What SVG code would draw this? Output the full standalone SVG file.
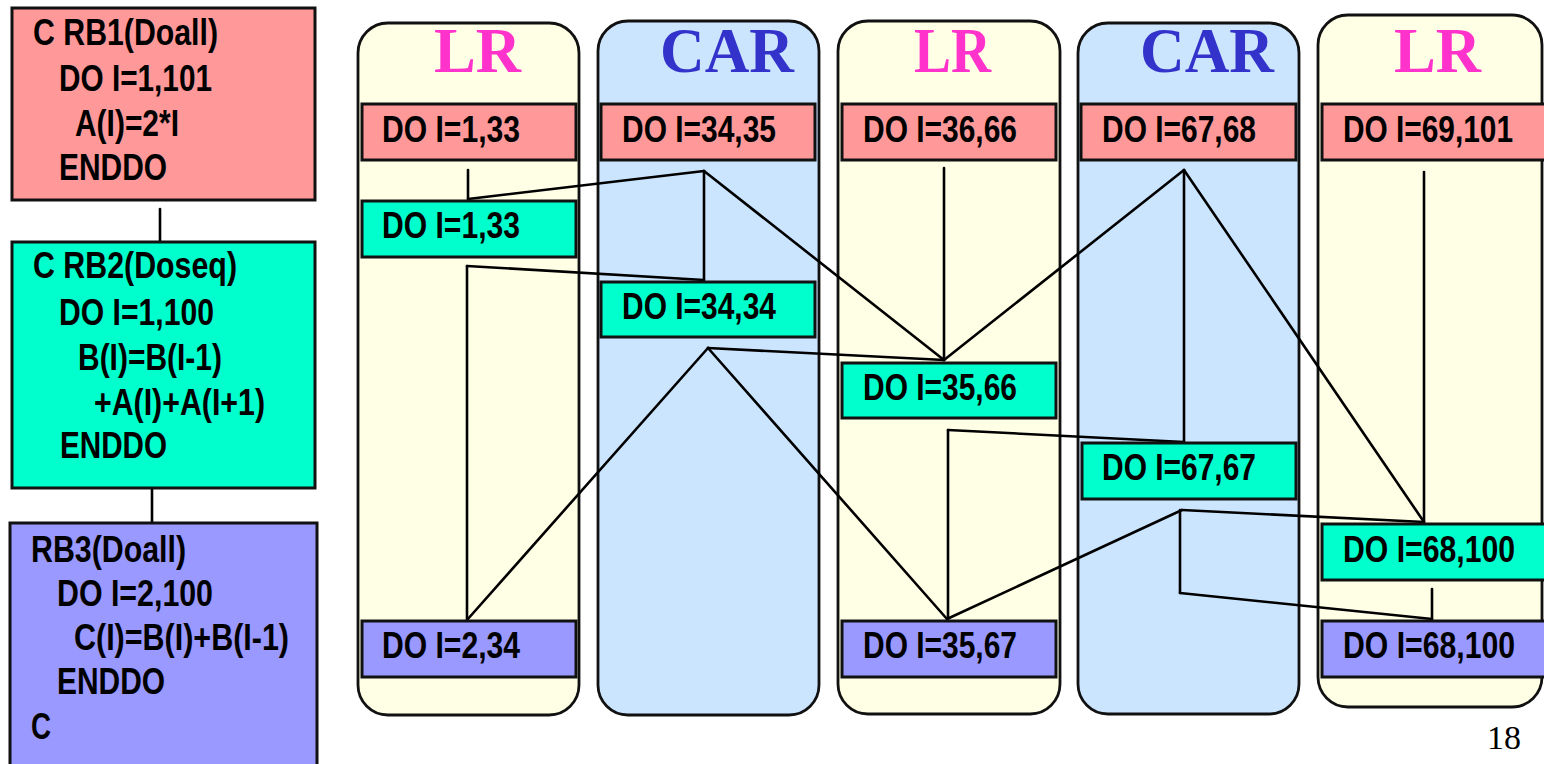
<svg xmlns="http://www.w3.org/2000/svg" width="1544" height="764" viewBox="0 0 1544 764">
<style>
.t{font-family:'Liberation Sans Narrow','Liberation Sans',Arial,sans-serif;font-weight:bold;font-size:36px;fill:#000}
.ttl{font-family:'Liberation Serif','Times New Roman',serif;font-weight:bold;font-size:63px}
.lr{fill:#ff33cc}
.car{fill:#3333cc}
.laneLR{fill:#ffffe6;stroke:#111;stroke-width:2.8}
.laneCAR{fill:#cce5ff;stroke:#111;stroke-width:2.8}
.p{fill:#ff9999;stroke:#111;stroke-width:3}
.g{fill:#00ffcc;stroke:#111;stroke-width:3}
.b{fill:#9999ff;stroke:#111;stroke-width:3}
.c line{stroke:#000;stroke-width:2.6;stroke-linecap:round}
</style>
<rect width="1544" height="764" fill="#fff"/>
<g id="lanes">
<rect id="lane1" class="laneLR" x="358" y="23" width="221" height="692" rx="30"/>
<rect id="lane2" class="laneCAR" x="598" y="21" width="221" height="694" rx="30"/>
<rect id="lane3" class="laneLR" x="838" y="21" width="222" height="693" rx="30"/>
<rect id="lane4" class="laneCAR" x="1078" y="23" width="221" height="691" rx="30"/>
<rect id="lane5" class="laneLR" x="1318" y="15" width="224" height="692" rx="30"/>
<text class="ttl lr" x="434" y="72" textLength="87" lengthAdjust="spacingAndGlyphs">LR</text>
<text class="ttl car" x="660" y="72" textLength="134" lengthAdjust="spacingAndGlyphs">CAR</text>
<text class="ttl lr" x="914" y="72" textLength="77" lengthAdjust="spacingAndGlyphs">LR</text>
<text class="ttl car" x="1140" y="72" textLength="134" lengthAdjust="spacingAndGlyphs">CAR</text>
<text class="ttl lr" x="1394" y="72" textLength="87" lengthAdjust="spacingAndGlyphs">LR</text>
</g>
<g id="connectors" class="c">
<line x1="160" y1="209" x2="160" y2="242"/>
<line x1="152" y1="488" x2="152" y2="523"/>
<line x1="468" y1="170" x2="468" y2="199"/>
<line x1="468" y1="199" x2="704" y2="171"/>
<line x1="704" y1="171" x2="704" y2="280"/>
<line x1="704" y1="171" x2="944" y2="360"/>
<line x1="467" y1="266" x2="704" y2="280"/>
<line x1="467" y1="266" x2="467" y2="620"/>
<line x1="467" y1="620" x2="708" y2="348"/>
<line x1="708" y1="348" x2="944" y2="360"/>
<line x1="708" y1="348" x2="947" y2="619"/>
<line x1="944" y1="168" x2="944" y2="360"/>
<line x1="944" y1="360" x2="1184" y2="170"/>
<line x1="1184" y1="170" x2="1184" y2="442"/>
<line x1="1184" y1="170" x2="1424" y2="522"/>
<line x1="1424" y1="172" x2="1424" y2="522"/>
<line x1="948" y1="430" x2="1184" y2="442"/>
<line x1="948" y1="430" x2="948" y2="619"/>
<line x1="947" y1="619" x2="1182" y2="510"/>
<line x1="1182" y1="510" x2="1424" y2="522"/>
<line x1="1180" y1="510" x2="1180" y2="593"/>
<line x1="1180" y1="593" x2="1432" y2="619"/>
<line x1="1432" y1="589" x2="1432" y2="619"/>
</g>
<g id="rb1">
<rect class="p" x="12" y="8" width="303" height="192"/>
<text class="t" x="33" y="45" textLength="185" lengthAdjust="spacingAndGlyphs">C RB1(Doall)</text>
<text class="t" x="59" y="91" textLength="153" lengthAdjust="spacingAndGlyphs">DO I=1,101</text>
<text class="t" x="75" y="136" textLength="104" lengthAdjust="spacingAndGlyphs">A(I)=2*I</text>
<text class="t" x="59" y="180" textLength="108" lengthAdjust="spacingAndGlyphs">ENDDO</text>
</g>
<g id="rb2">
<rect class="g" x="12" y="242" width="303" height="246"/>
<text class="t" x="33" y="278" textLength="204" lengthAdjust="spacingAndGlyphs">C RB2(Doseq)</text>
<text class="t" x="59" y="325" textLength="155" lengthAdjust="spacingAndGlyphs">DO I=1,100</text>
<text class="t" x="78" y="370" textLength="144" lengthAdjust="spacingAndGlyphs">B(I)=B(I-1)</text>
<text class="t" x="94" y="415" textLength="171" lengthAdjust="spacingAndGlyphs">+A(I)+A(I+1)</text>
<text class="t" x="60" y="458" textLength="107" lengthAdjust="spacingAndGlyphs">ENDDO</text>
</g>
<g id="rb3">
<rect class="b" x="10" y="523" width="307" height="260"/>
<text class="t" x="31" y="562" textLength="155" lengthAdjust="spacingAndGlyphs">RB3(Doall)</text>
<text class="t" x="57" y="606" textLength="156" lengthAdjust="spacingAndGlyphs">DO I=2,100</text>
<text class="t" x="74" y="650" textLength="215" lengthAdjust="spacingAndGlyphs">C(I)=B(I)+B(I-1)</text>
<text class="t" x="57" y="694" textLength="108" lengthAdjust="spacingAndGlyphs">ENDDO</text>
<text class="t" x="31" y="739" textLength="20" lengthAdjust="spacingAndGlyphs">C</text>
</g>
<g id="n1"><rect class="p" x="362" y="104" width="214" height="56"/><text class="t" x="382" y="142" textLength="138" lengthAdjust="spacingAndGlyphs">DO I=1,33</text></g>
<g id="n2"><rect class="g" x="362" y="201" width="214" height="56"/><text class="t" x="382" y="238" textLength="138" lengthAdjust="spacingAndGlyphs">DO I=1,33</text></g>
<g id="n3"><rect class="b" x="362" y="621" width="214" height="56"/><text class="t" x="382" y="658" textLength="138" lengthAdjust="spacingAndGlyphs">DO I=2,34</text></g>
<g id="n4"><rect class="p" x="601" y="104" width="214" height="56"/><text class="t" x="622" y="142" textLength="154" lengthAdjust="spacingAndGlyphs">DO I=34,35</text></g>
<g id="n5"><rect class="g" x="601" y="282" width="214" height="55"/><text class="t" x="622" y="319" textLength="154" lengthAdjust="spacingAndGlyphs">DO I=34,34</text></g>
<g id="n6"><rect class="p" x="842" y="104" width="214" height="56"/><text class="t" x="863" y="142" textLength="154" lengthAdjust="spacingAndGlyphs">DO I=36,66</text></g>
<g id="n7"><rect class="g" x="842" y="363" width="214" height="55"/><text class="t" x="863" y="400" textLength="154" lengthAdjust="spacingAndGlyphs">DO I=35,66</text></g>
<g id="n8"><rect class="b" x="842" y="621" width="214" height="56"/><text class="t" x="863" y="658" textLength="154" lengthAdjust="spacingAndGlyphs">DO I=35,67</text></g>
<g id="n9"><rect class="p" x="1081" y="104" width="215" height="56"/><text class="t" x="1102" y="142" textLength="154" lengthAdjust="spacingAndGlyphs">DO I=67,68</text></g>
<g id="n10"><rect class="g" x="1082" y="443" width="214" height="56"/><text class="t" x="1102" y="480" textLength="154" lengthAdjust="spacingAndGlyphs">DO I=67,67</text></g>
<g id="n11"><rect class="p" x="1322" y="104" width="230" height="56"/><text class="t" x="1343" y="142" textLength="170" lengthAdjust="spacingAndGlyphs">DO I=69,101</text></g>
<g id="n12"><rect class="g" x="1322" y="524" width="230" height="56"/><text class="t" x="1343" y="562" textLength="172" lengthAdjust="spacingAndGlyphs">DO I=68,100</text></g>
<g id="n13"><rect class="b" x="1322" y="621" width="230" height="56"/><text class="t" x="1343" y="658" textLength="172" lengthAdjust="spacingAndGlyphs">DO I=68,100</text></g>
<text x="1487" y="749" font-family="'Liberation Serif','Times New Roman',serif" font-size="34" fill="#000">18</text>
</svg>
